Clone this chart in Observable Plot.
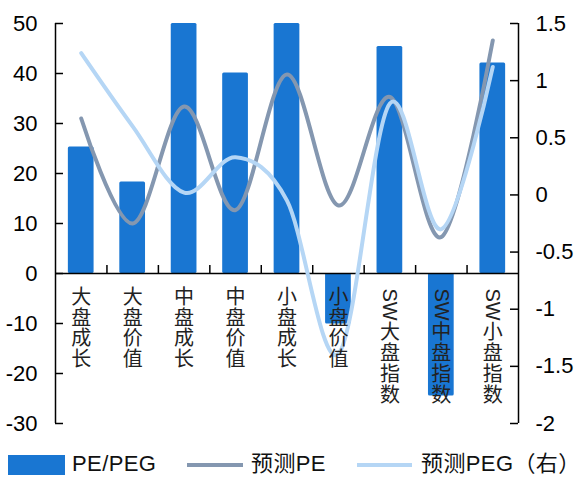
<!DOCTYPE html>
<html>
<head>
<meta charset="utf-8">
<script src="https://cdn.jsdelivr.net/npm/d3@7"></script>
<script src="https://cdn.jsdelivr.net/npm/@observablehq/plot@0.6"></script>
<style>
  body { margin: 0; background: #fff; }
  #wrap { position: relative; width: 579px; height: 477px;
          font-family: "Liberation Sans", Arial, "Noto Sans CJK SC", sans-serif; }
  .lg { position: absolute; font-size: 22px; line-height: 22px; color: #111; white-space: nowrap; letter-spacing: 0.4px; }
  .sw { position: absolute; }
</style>
</head>
<body>
<div id="wrap"></div>
<script>
// Style categories
const categories = ["大盘成长", "大盘价值", "中盘成长", "中盘价值", "小盘成长", "小盘价值", "SW大盘指数", "SW中盘指数", "SW小盘指数"];
// PE/PEG bars (left axis)
const pePeg = [25.3, 18.3, 50, 40.1, 50, -10.1, 45.4, -24.5, 42.1];
// Forecast PE (left axis)
const forecastPE = [31, 10, 33.4, 12.7, 39.8, 13.6, 35.3, 7.3, 46.6];
// Forecast PEG (right axis)
const forecastPEG = [1.24, 0.6, 0.02, 0.33, -0.05, -1.39, 0.8, -0.3, 1.12];
// Axis ticks
const leftTicks = [-30, -20, -10, 0, 10, 20, 30, 40, 50];
const rightTicks = [-2, -1.5, -1, -0.5, 0, 0.5, 1, 1.5];

const leftDomain = [-30, 50];
const rightDomain = [-2, 1.5];

const rows = categories.map((c, i) => ({cat: c, bar: pePeg[i], pe: forecastPE[i], peg: forecastPEG[i]}));
const plainRows = rows.filter(d => !d.cat.startsWith("SW"));
const swRows = rows.filter(d => d.cat.startsWith("SW"));
const stack = s => [...s].join("\n");

// right-axis values are drawn on the left scale through this linear map
const toLeft = d3.scaleLinear().domain(rightDomain).range(leftDomain);

const W = 579, H = 445;
const mL = 55, mR = 61, mT = 23, mB = 22;
const frameW = W - mL - mR;
const frameH = H - mT - mB;
const step = frameW / categories.length;
const tickLen = 8;
const tickInData = tickLen * (leftDomain[1] - leftDomain[0]) / frameH;

const barColor = "#1976D2";
const peColor = "#8497B0";
const pegColor = "#B5D6F5";
const labelFont = "Noto Sans CJK SC, sans-serif";

const plot = Plot.plot({
  width: W,
  height: H,
  marginLeft: mL,
  marginRight: mR,
  marginTop: mT,
  marginBottom: mB,
  style: {fontFamily: "Liberation Sans, Arial, sans-serif", color: "#000", background: "#fff"},
  x: {type: "band", domain: categories, paddingInner: 0.5, paddingOuter: 0.25, round: false, axis: null},
  y: {domain: leftDomain, axis: null},
  marks: [
    Plot.barY(rows, {x: "cat", y: "bar", fill: barColor, rx: 1.5}),
    // zero line and category separators
    Plot.ruleY([0], {stroke: "#000", strokeWidth: 1.5}),
    Plot.ruleX(categories.slice(1), {x: d => d, dx: -step / 2, y1: 0, y2: tickInData, stroke: "#000", strokeWidth: 1.5}),
    // axis lines
    Plot.ruleX([categories[0]], {x: d => d, dx: -step / 2, y1: leftDomain[0], y2: leftDomain[1], stroke: "#000", strokeWidth: 1.5}),
    Plot.ruleX([categories[categories.length - 1]], {x: d => d, dx: step / 2, y1: leftDomain[0], y2: leftDomain[1], stroke: "#000", strokeWidth: 1.5}),
    // inward tick marks
    Plot.tickY(leftTicks, {y: d => d, insetRight: frameW - tickLen, stroke: "#000", strokeWidth: 1.5}),
    Plot.tickY(rightTicks.map(toLeft), {y: d => d, insetLeft: frameW - tickLen, stroke: "#000", strokeWidth: 1.5}),
    // tick labels
    Plot.axisY({anchor: "left", ticks: leftTicks, tickSize: 0, tickPadding: 18, fontSize: 22, tickFormat: d => String(d)}),
    Plot.axisY({anchor: "right", ticks: rightTicks.map(toLeft), tickSize: 0, tickPadding: 17, fontSize: 22,
      tickFormat: d => String(+toLeft.invert(d).toFixed(2))}),
    // series lines
    Plot.line(rows, {x: "cat", y: "pe", stroke: peColor, strokeWidth: 4, curve: "cardinal"}),
    Plot.line(rows, {x: "cat", y: d => toLeft(d.peg), stroke: pegColor, strokeWidth: 4, curve: "cardinal"}),
    // vertical category labels, one glyph per line
    Plot.text(plainRows, {x: "cat", y: 0, text: d => stack(d.cat), dy: 16, lineAnchor: "top", lineHeight: 1.03,
      fontSize: 20, fill: "#222", fontFamily: labelFont}),
    Plot.text(swRows, {x: "cat", y: 0, text: d => stack(d.cat.slice(2)), dy: 50, lineAnchor: "top", lineHeight: 1.06,
      fontSize: 20, fill: "#222", fontFamily: labelFont}),
    // the Latin prefix runs sideways
    Plot.text(swRows, {x: "cat", y: 0, text: d => d.cat.slice(0, 2), dy: 15, rotate: 90, textAnchor: "start",
      lineAnchor: "middle", fontSize: 20, fill: "#222", fontFamily: "Liberation Sans, Arial, sans-serif"})
  ]
});

const wrap = document.getElementById("wrap");
wrap.appendChild(plot);

// legend
const legendItems = [
  {type: "rect", left: 8, top: 455, width: 57, height: 20, color: barColor},
  {type: "text", left: 72, top: 453, text: "PE/PEG"},
  {type: "rect", left: 187, top: 463, width: 56, height: 4, color: peColor},
  {type: "text", left: 251, top: 453, text: "预测PE"},
  {type: "rect", left: 357, top: 463, width: 55, height: 4, color: pegColor},
  {type: "text", left: 421, top: 453, text: "预测PEG（右）"}
];
for (const it of legendItems) {
  const el = document.createElement("div");
  if (it.type === "rect") {
    el.className = "sw";
    Object.assign(el.style, {left: it.left + "px", top: it.top + "px", width: it.width + "px", height: it.height + "px", background: it.color});
  } else {
    el.className = "lg";
    Object.assign(el.style, {left: it.left + "px", top: it.top + "px"});
    el.textContent = it.text;
  }
  wrap.appendChild(el);
}
</script>
</body>
</html>
